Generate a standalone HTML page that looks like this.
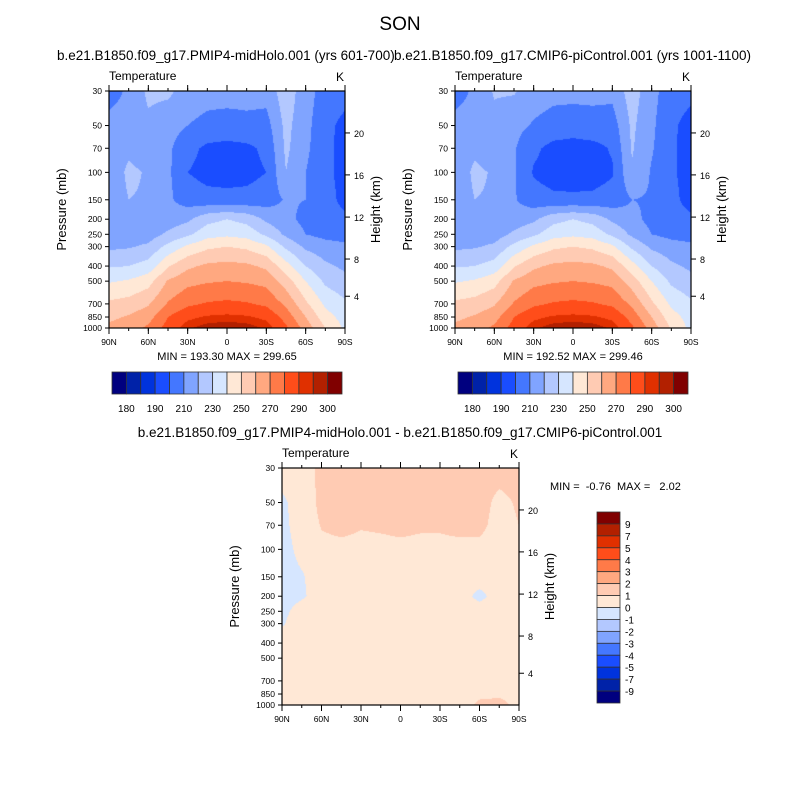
<!DOCTYPE html>
<html><head><meta charset="utf-8">
<style>
body{margin:0;background:#fff;font-family:"Liberation Sans",sans-serif;}
#root{position:relative;width:800px;height:800px;overflow:hidden;}
.t{position:absolute;white-space:nowrap;color:#000;}
canvas{position:absolute;}
svg{position:absolute;left:0;top:0;}
</style></head><body>
<div id="root">
<div class="t" style="left:0;width:800px;text-align:center;top:14px;font-size:19px;">SON</div>
<div class="t" style="left:57px;top:48px;font-size:13.5px;">b.e21.B1850.f09_g17.PMIP4-midHolo.001 (yrs 601-700)</div>
<div class="t" style="left:394px;top:48px;font-size:13.5px;">b.e21.B1850.f09_g17.CMIP6-piControl.001 (yrs 1001-1100)</div>
<div class="t" style="left:0;width:800px;text-align:center;top:425px;font-size:13.5px;">b.e21.B1850.f09_g17.PMIP4-midHolo.001 - b.e21.B1850.f09_g17.CMIP6-piControl.001</div>
<div class="t" style="left:550px;top:481px;font-size:11px;">MIN = &nbsp;-0.76 &nbsp;MAX = &nbsp;&nbsp;2.02</div>
<svg id="svg" width="800" height="800"></svg>
</div>
<script>
const lats=[90,75,60,45,30,15,0,-15,-30,-45,-60,-75,-90];
const pres=[30,50,70,100,150,200,250,300,400,500,700,850,1000];
const tempA=[
[205,212,222,222,216,214,214,214,214,226,214,206,204],
[214,215,218,214,210,207,206,207,206,223,213,203,197],
[216,218,215,212,203,198,197,198,202,222,212,203,196],
[213,222,219,212,200,197,196,197,200,220,210,203,196],
[214,220,219,212,205,203,203,203,205,211,210,204,197],
[215,215,215,214,218,227,230,227,218,213,207,204,202],
[214,214,215,222,228,236,238,236,228,218,210,207,206],
[218,219,222,233,242,248,250,248,242,228,218,214,212],
[229,230,234,249,258,262,263,262,258,244,230,222,218],
[239,241,246,261,267,269,270,269,267,255,240,228,223],
[252,254,259,271,278,281,282,281,278,268,252,238,232],
[258,261,266,280,288,291,292,291,288,276,260,244,236],
[262,265,272,284,294,298,299,298,294,282,266,250,238]];
const tempB=[
[205,212,221,221,215,213,213,213,213,225,213,205,203],
[214,215,217,213,209,206,205,206,205,222,212,202,196],
[216,218,214,211,202,197,196,197,201,221,211,202,195],
[213,222,219,211,199,196,195,196,199,219,209,202,195],
[214,220,219,211,204,202,202,202,204,210,209,203,196],
[215,215,215,214,218,227,230,227,218,213,207,204,202],
[214,214,215,222,228,236,238,236,228,218,210,207,206],
[218,219,222,233,242,248,250,248,242,228,218,214,212],
[229,230,234,249,258,262,263,262,258,244,230,222,218],
[239,241,246,261,267,269,270,269,267,255,240,228,223],
[252,254,259,271,278,281,282,281,278,268,252,238,232],
[258,261,266,280,288,291,292,291,288,276,260,244,236],
[262,265,272,284,294,298,299,298,294,282,266,249,237]];
const diffC=[
[0.5,0.6,1.2,1.3,1.4,1.4,1.4,1.4,1.4,1.4,1.3,1.3,1.3],
[-0.2,0.5,1.2,1.3,1.3,1.3,1.3,1.3,1.3,1.3,1.3,0.8,1.1],
[-0.3,0.5,1.05,1.2,1.05,1.1,1.2,1.1,1.1,1.2,1.2,0.7,1.0],
[-0.4,0.3,0.8,0.8,0.8,0.8,0.8,0.8,0.8,0.8,0.8,0.6,0.9],
[-0.4,-0.1,0.5,0.5,0.5,0.5,0.5,0.5,0.5,0.5,0.5,0.5,0.5],
[-0.3,-0.1,0.3,0.5,0.5,0.5,0.5,0.5,0.5,0.5,-0.3,0.5,0.5],
[-0.2,0.3,0.5,0.5,0.5,0.5,0.5,0.5,0.5,0.5,0.5,0.5,0.5],
[-0.1,0.5,0.5,0.5,0.5,0.5,0.5,0.5,0.5,0.5,0.5,0.5,0.5],
[0.5,0.5,0.5,0.5,0.5,0.5,0.5,0.5,0.5,0.5,0.5,0.5,0.5],
[0.5,0.5,0.5,0.5,0.5,0.5,0.5,0.5,0.5,0.5,0.5,0.5,0.5],
[0.5,0.5,0.5,0.5,0.5,0.5,0.5,0.5,0.5,0.5,0.5,0.6,0.6],
[0.5,0.5,0.5,0.5,0.5,0.5,0.5,0.5,0.5,0.5,0.8,0.9,0.8],
[0.5,0.5,0.5,0.5,0.5,0.5,0.5,0.5,0.5,0.5,1.2,1.2,0.8]];
const levelsT=[180,185,190,200,210,220,230,240,250,260,270,280,290,295,300];
const levelLabelsT=["180","190","210","230","250","270","290","300"];
const levelsD=[-9,-7,-5,-4,-3,-2,-1,0,1,2,3,4,5,7,9];
const levelLabelsD=["9","7","5","4","3","2","1","0","-1","-2","-3","-4","-5","-7","-9"];
const colors=["#00007f","#0022a8","#0033dd","#1a4dff","#4477ff","#80a4ff","#b3c8ff","#d6e6ff","#ffe8d6","#ffcbb3","#ffa880","#ff7a48","#ff4d1a","#e03000","#b22000","#800000"];
const pTicks=[30,50,70,100,150,200,250,300,400,500,700,850,1000];
const xTickLats=[90,60,30,0,-30,-60,-90];
const xTickLabels=["90N","60N","30N","0","30S","60S","90S"];
const kmTicks=[20,16,12,8,4];
const kmFrac=[0.177,0.354,0.532,0.709,0.866];

const svg=document.getElementById('svg'),root=document.getElementById('root');
const NS="http://www.w3.org/2000/svg";
function mk(tag,attrs,parent){const e=document.createElementNS(NS,tag);for(const k in attrs)e.setAttribute(k,attrs[k]);(parent||svg).appendChild(e);return e;}
function txt(x,y,s,size,anchor,parent){const e=mk('text',{x:x,y:y,'font-size':size,'text-anchor':anchor||'middle','font-family':'Liberation Sans, sans-serif'},parent);e.textContent=s;return e;}
function colorFor(v,lev){let i=0;while(i<lev.length&&v>=lev[i])i++;return colors[i];}

function panel(X,Y,W,H,grid,lev,id,minmax){
  const xs=lat=>X+(90-lat)/180*W;
  const ys=p=>Y+Math.log(p/30)/Math.log(1000/30)*H;
  const cv=document.createElement('canvas');cv.width=W;cv.height=H;
  cv.style.left=X+'px';cv.style.top=Y+'px';
  
  
  root.insertBefore(cv,svg);
  const ctx=cv.getContext('2d');
  const lp=pres.map(p=>Math.log(p));
  for(let py=0;py<H;py+=1){
    const p=Math.exp(Math.log(30)+(py+0.5)/H*Math.log(1000/30));
    const l=Math.log(p);let j=0;while(j<pres.length-2&&l>lp[j+1])j++;
    const fy=Math.min(1,Math.max(0,(l-lp[j])/(lp[j+1]-lp[j])));
    for(let px=0;px<W;px+=1){
      const lat=90-(px+0.5)/W*180;
      const fi=(90-lat)/15;let i=Math.min(11,Math.floor(fi));const fx=fi-i;
      const v=(grid[j][i]*(1-fx)+grid[j][i+1]*fx)*(1-fy)+(grid[j+1][i]*(1-fx)+grid[j+1][i+1]*fx)*fy;
      ctx.fillStyle=colorFor(v,lev);ctx.fillRect(px,py,1,1);
    }
  }
  const g=mk('g',{});
  
  
  mk('rect',{x:X,y:Y,width:W,height:H,fill:'none',stroke:'#000','stroke-width':1.2},g);
  pTicks.forEach(p=>{const y=ys(p);mk('line',{x1:X-4,x2:X,y1:y,y2:y,stroke:'#000'},g);txt(X-7,y+3,String(p),8.5,'end',g);});
  for(let lat=90;lat>=-90;lat-=15){const x=xs(lat);mk('line',{x1:x,x2:x,y1:Y+H,y2:Y+H+3,stroke:'#000'},g);mk('line',{x1:x,x2:x,y1:Y,y2:Y-3,stroke:'#000'},g);}
  xTickLats.forEach((lat,k)=>{const x=xs(lat);mk('line',{x1:x,x2:x,y1:Y+H,y2:Y+H+6,stroke:'#000'},g);mk('line',{x1:x,x2:x,y1:Y,y2:Y-6,stroke:'#000'},g);txt(x,Y+H+17,xTickLabels[k],8.5,'middle',g);});
  kmTicks.forEach((km,k)=>{const y=Y+kmFrac[k]*H;mk('line',{x1:X+W,x2:X+W+5,y1:y,y2:y,stroke:'#000'},g);txt(X+W+9,y+4,String(km),9,'start',g);});
  txt(X,Y-11,'Temperature',12,'start',g);
  txt(X+W-5,Y-10,'K',12,'middle',g);
  const pl=txt(0,0,'Pressure (mb)',13,'middle',g);pl.setAttribute('transform',`translate(${X-43},${Y+H/2}) rotate(-90)`);
  const hl=txt(0,0,'Height (km)',13,'middle',g);hl.setAttribute('transform',`translate(${X+W+35},${Y+H/2}) rotate(-90)`);
  if(minmax)txt(X+W/2,Y+H+32,minmax,11,'middle',g);
}
panel(109,91,236,237,tempA,levelsT,'panel1','MIN = 193.30  MAX = 299.65');
panel(455,91,236,237,tempB,levelsT,'panel2','MIN = 192.52  MAX = 299.46');
panel(282,468,237,237,diffC,levelsD,'panel3',null);

function hbar(X,Y,id){
  const g=mk('g',{});
  
  
  const bw=230/16;
  colors.forEach((c,i)=>mk('rect',{x:X+i*bw,y:Y,width:bw,height:22,fill:c,stroke:'#333','stroke-width':0.8},g));
  levelLabelsT.forEach((s,k)=>txt(X+(1+2*k)*bw,Y+40,s,10,'middle',g));
}
hbar(112,372,'colorbar-1');hbar(458,372,'colorbar-2');
(function(){
  const g=mk('g',{});
  
  
  const X=597,Y=512,bh=191/16;
  colors.slice().reverse().forEach((c,i)=>mk('rect',{x:X,y:Y+i*bh,width:23,height:bh,fill:c,stroke:'#333','stroke-width':0.8},g));
  levelLabelsD.forEach((s,k)=>txt(X+28,Y+(k+1)*bh+4,s,10,'start',g));
})();
</script>
</body></html>
